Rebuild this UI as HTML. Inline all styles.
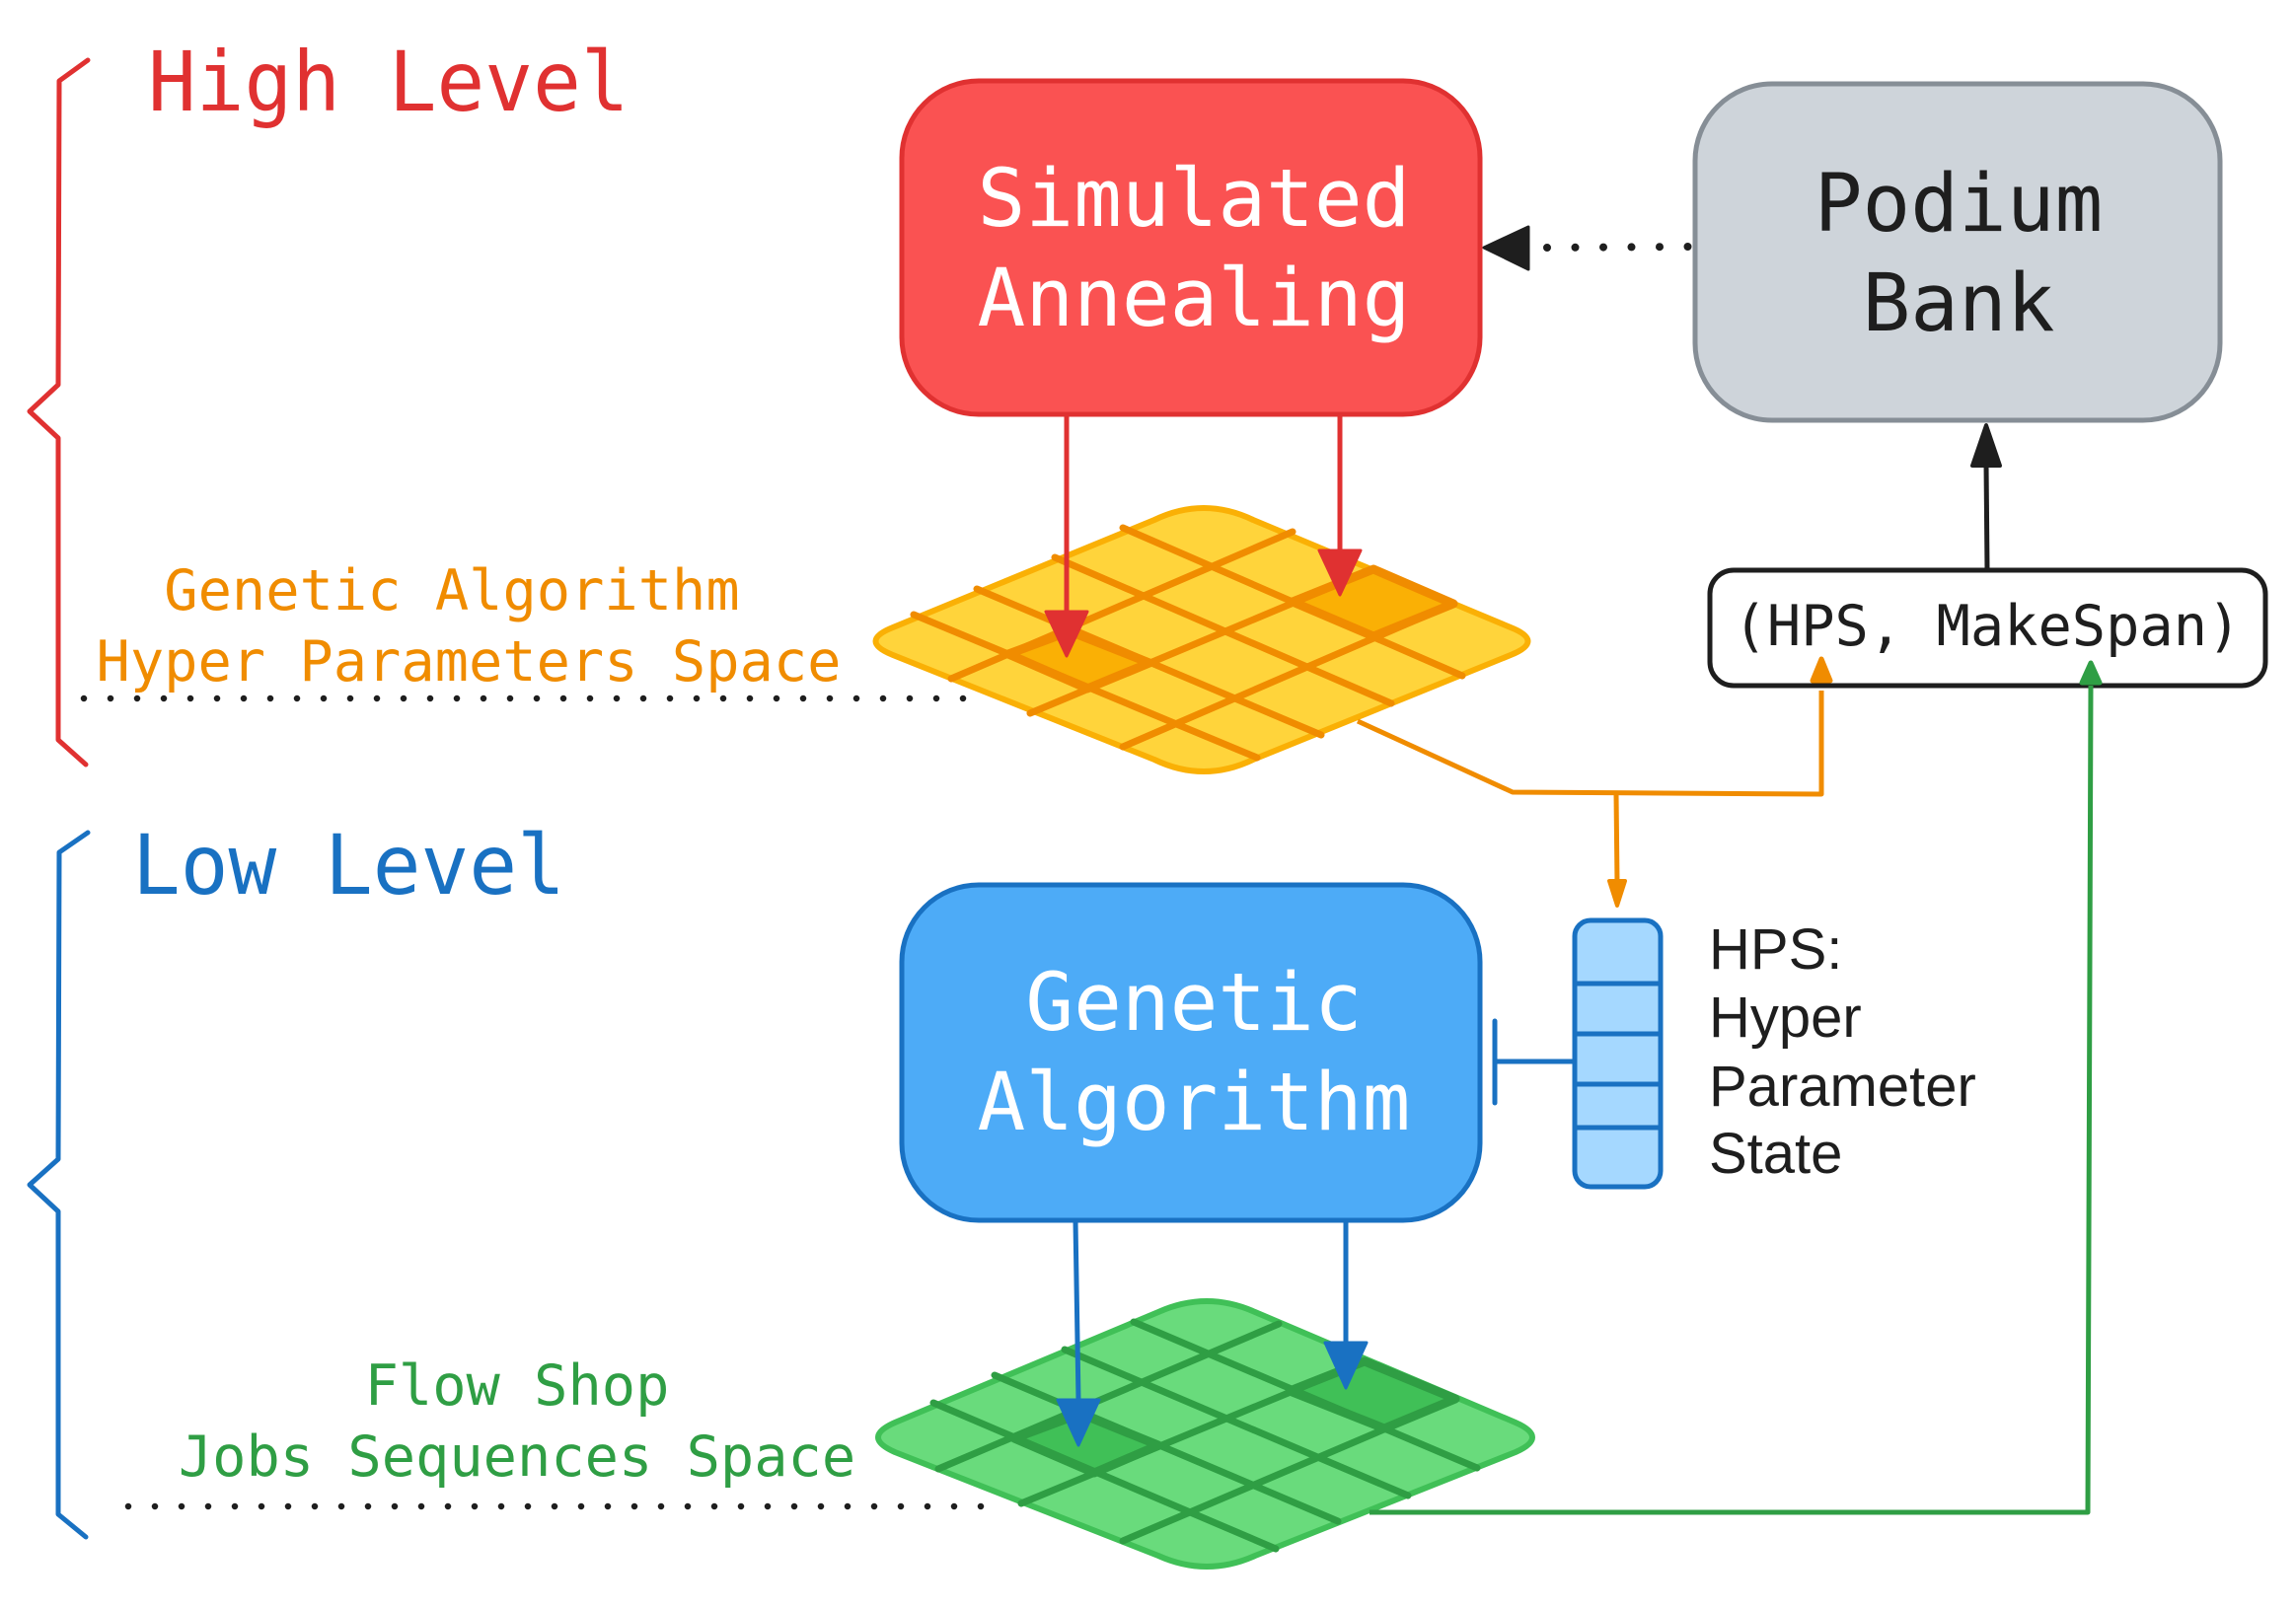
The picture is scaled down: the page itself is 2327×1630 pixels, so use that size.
<!DOCTYPE html>
<html><head><meta charset="utf-8"><style>
html,body{margin:0;padding:0;background:#fff;}
svg{display:block;}
.mono{font-family:"DejaVu Sans Mono","Liberation Mono",monospace;}
.sans{font-family:"Liberation Sans",sans-serif;}
</style></head><body>
<svg width="2327" height="1630" viewBox="0 0 2327 1630" xmlns="http://www.w3.org/2000/svg">
<rect width="2327" height="1630" fill="#fff"/>

<path d="M89 61 L60 82 L59 390 L30 417 L59 444 L59 750 L87 775" fill="none" stroke="#e03131" stroke-width="5" stroke-linejoin="round" stroke-linecap="round"/>
<path d="M89 844 L60 864 L59 1175 L30 1201 L59 1228 L59 1535 L87 1558" fill="none" stroke="#1971c2" stroke-width="5" stroke-linejoin="round" stroke-linecap="round"/>

<text x="150" y="112" class="mono" font-size="81" fill="#e03131" transform="translate(150 112) scale(1 1.04) translate(-150 -112)">High Level</text>
<text x="134" y="906" class="mono" font-size="81" fill="#1971c2" transform="translate(134 906) scale(1 1.04) translate(-134 -906)">Low Level</text>

<line x1="85" y1="708" x2="992" y2="708" stroke="#1e1e1e" stroke-width="6.5" stroke-linecap="round" stroke-dasharray="0 27"/>
<line x1="130" y1="1527" x2="1016" y2="1527" stroke="#1e1e1e" stroke-width="6.5" stroke-linecap="round" stroke-dasharray="0 27"/>

<text x="458" y="618" class="mono" font-size="57" fill="#f08c00" text-anchor="middle">Genetic Algorithm</text>
<text x="475" y="690" class="mono" font-size="57" fill="#f08c00" text-anchor="middle">Hyper Parameters Space</text>
<text x="524" y="1424" class="mono" font-size="57" fill="#2f9e44" text-anchor="middle">Flow Shop</text>
<text x="524" y="1496" class="mono" font-size="57" fill="#2f9e44" text-anchor="middle">Jobs Sequences Space</text>

<path d="M905 636 L1170 527 Q1220 503 1270 527 L1531 636 Q1566 650 1531 664 L1270 770 Q1220 794 1170 770 L905 664 Q870 650 905 636 Z" fill="#ffd43b" stroke="#fab005" stroke-width="6" stroke-linejoin="round"/>
<polygon points="1022,663 1084,640 1165,672 1102,698" fill="#fab005"/>
<polygon points="1310,610 1392,577 1473,612 1392,645" fill="#fab005"/>
<g stroke="#f08c00" stroke-width="7" stroke-linecap="round">
<line x1="1138" y1="535" x2="1482" y2="685"/>
<line x1="1069" y1="565" x2="1410" y2="713"/>
<line x1="990" y1="597" x2="1339" y2="745"/>
<line x1="926" y1="623" x2="1274" y2="768"/>
<line x1="964" y1="688" x2="1310" y2="539"/>
<line x1="1044" y1="723" x2="1392" y2="577"/>
<line x1="1138" y1="757" x2="1473" y2="612"/>
</g>
<polygon points="1022,663 1084,640 1165,672 1102,698" fill="none" stroke="#f08c00" stroke-width="9" stroke-linejoin="round"/>
<polygon points="1310,610 1392,577 1473,612 1392,645" fill="none" stroke="#f08c00" stroke-width="9" stroke-linejoin="round"/>

<path d="M907 1442 L1174 1330 Q1223 1308 1272 1330 L1536 1442 Q1570 1457 1536 1472 L1272 1577 Q1223 1599 1174 1577 L907 1472 Q873 1457 907 1442 Z" fill="#69db7c" stroke="#40c057" stroke-width="6" stroke-linejoin="round"/>
<polygon points="1028,1458 1095,1433 1174,1465 1109,1493" fill="#40c057"/>
<polygon points="1307,1410 1383,1380 1475,1418 1403,1448" fill="#40c057"/>
<g stroke="#2f9e44" stroke-width="7" stroke-linecap="round">
<line x1="1149" y1="1340" x2="1497" y2="1488"/>
<line x1="1079" y1="1368" x2="1427" y2="1516"/>
<line x1="1008" y1="1394" x2="1356" y2="1542"/>
<line x1="946" y1="1422" x2="1293" y2="1570"/>
<line x1="951" y1="1489" x2="1296" y2="1342"/>
<line x1="1035" y1="1524" x2="1383" y2="1380"/>
<line x1="1138" y1="1562" x2="1475" y2="1418"/>
</g>
<polygon points="1028,1458 1095,1433 1174,1465 1109,1493" fill="none" stroke="#2f9e44" stroke-width="9" stroke-linejoin="round"/>
<polygon points="1307,1410 1383,1380 1475,1418 1403,1448" fill="none" stroke="#2f9e44" stroke-width="9" stroke-linejoin="round"/>

<rect x="914" y="82" width="586" height="338" rx="78" fill="#fa5252" stroke="#e03131" stroke-width="5"/>
<text x="1210" y="229" class="mono" font-size="81" fill="#fff" text-anchor="middle">Simulated</text>
<text x="1210" y="330" class="mono" font-size="81" fill="#fff" text-anchor="middle">Annealing</text>

<rect x="1718" y="85" width="532" height="341" rx="78" fill="#ced4da" stroke="#868e96" stroke-width="5"/>
<text x="1985" y="234" class="mono" font-size="81" fill="#1e1e1e" text-anchor="middle">Podium</text>
<text x="1985" y="335" class="mono" font-size="81" fill="#1e1e1e" text-anchor="middle">Bank</text>

<line x1="1568" y1="251" x2="1712" y2="250" stroke="#1e1e1e" stroke-width="8" stroke-linecap="round" stroke-dasharray="0 28.5"/>
<polygon points="1504,251 1549,230 1549,273" fill="#1e1e1e" stroke="#1e1e1e" stroke-width="3" stroke-linejoin="round"/>

<rect x="914" y="897" width="586" height="340" rx="78" fill="#4dabf7" stroke="#1971c2" stroke-width="5"/>
<text x="1210" y="1044" class="mono" font-size="81" fill="#fff" text-anchor="middle">Genetic</text>
<text x="1210" y="1145" class="mono" font-size="81" fill="#fff" text-anchor="middle">Algorithm</text>

<rect x="1733" y="578" width="563" height="117" rx="24" fill="#fff" stroke="#1e1e1e" stroke-width="5"/>
<text x="2014" y="654" class="mono" font-size="57" fill="#1e1e1e" text-anchor="middle">(HPS, MakeSpan)</text>
<line x1="2014" y1="577" x2="2013" y2="470" stroke="#1e1e1e" stroke-width="5"/>
<polygon points="2013,431 1999,472 2027,472" fill="#1e1e1e" stroke="#1e1e1e" stroke-width="4" stroke-linejoin="round"/>

<line x1="1081" y1="421" x2="1081" y2="622" stroke="#e03131" stroke-width="5"/>
<polygon points="1081,665 1060,620 1102,620" fill="#e03131" stroke="#e03131" stroke-width="3" stroke-linejoin="round"/>
<line x1="1358" y1="421" x2="1358" y2="560" stroke="#e03131" stroke-width="5"/>
<polygon points="1358,603 1337,558 1379,558" fill="#e03131" stroke="#e03131" stroke-width="3" stroke-linejoin="round"/>

<line x1="1090" y1="1238" x2="1093" y2="1420" stroke="#1971c2" stroke-width="5"/>
<polygon points="1093,1465 1072,1419 1114,1419" fill="#1971c2" stroke="#1971c2" stroke-width="3" stroke-linejoin="round"/>
<line x1="1364" y1="1238" x2="1364" y2="1362" stroke="#1971c2" stroke-width="5"/>
<polygon points="1364,1407 1343,1361 1385,1361" fill="#1971c2" stroke="#1971c2" stroke-width="3" stroke-linejoin="round"/>

<polyline points="1376,731 1533,803 1846,805 1846,700" fill="none" stroke="#f08c00" stroke-width="5" stroke-linejoin="round"/>
<polygon points="1846,668 1837,690 1855,690" fill="#f08c00" stroke="#f08c00" stroke-width="5" stroke-linejoin="round"/>
<line x1="1638" y1="805" x2="1639" y2="895" stroke="#f08c00" stroke-width="5"/>
<polygon points="1639,918 1631,893 1647,893" fill="#f08c00" stroke="#f08c00" stroke-width="4" stroke-linejoin="round"/>

<polyline points="1388,1533 2116,1533 2119,695" fill="none" stroke="#2f9e44" stroke-width="5" stroke-linejoin="round"/>
<polygon points="2119,672 2110,692 2128,692" fill="#2f9e44" stroke="#2f9e44" stroke-width="5" stroke-linejoin="round"/>

<rect x="1596" y="933" width="87" height="270" rx="16" fill="#a5d8ff" stroke="#1971c2" stroke-width="5"/>
<g stroke="#1971c2" stroke-width="5">
<line x1="1596" y1="997" x2="1683" y2="997"/>
<line x1="1596" y1="1048" x2="1683" y2="1048"/>
<line x1="1596" y1="1099" x2="1683" y2="1099"/>
<line x1="1596" y1="1143" x2="1683" y2="1143"/>
<line x1="1596" y1="1076" x2="1515" y2="1076"/>
<line x1="1515" y1="1035" x2="1515" y2="1118" stroke-linecap="round"/>
</g>
<g class="sans" font-size="58" fill="#1e1e1e">
<text x="1732" y="982">HPS:</text>
<text x="1732" y="1051">Hyper</text>
<text x="1732" y="1121">Parameter</text>
<text x="1732" y="1189">State</text>
</g>
</svg>
</body></html>
